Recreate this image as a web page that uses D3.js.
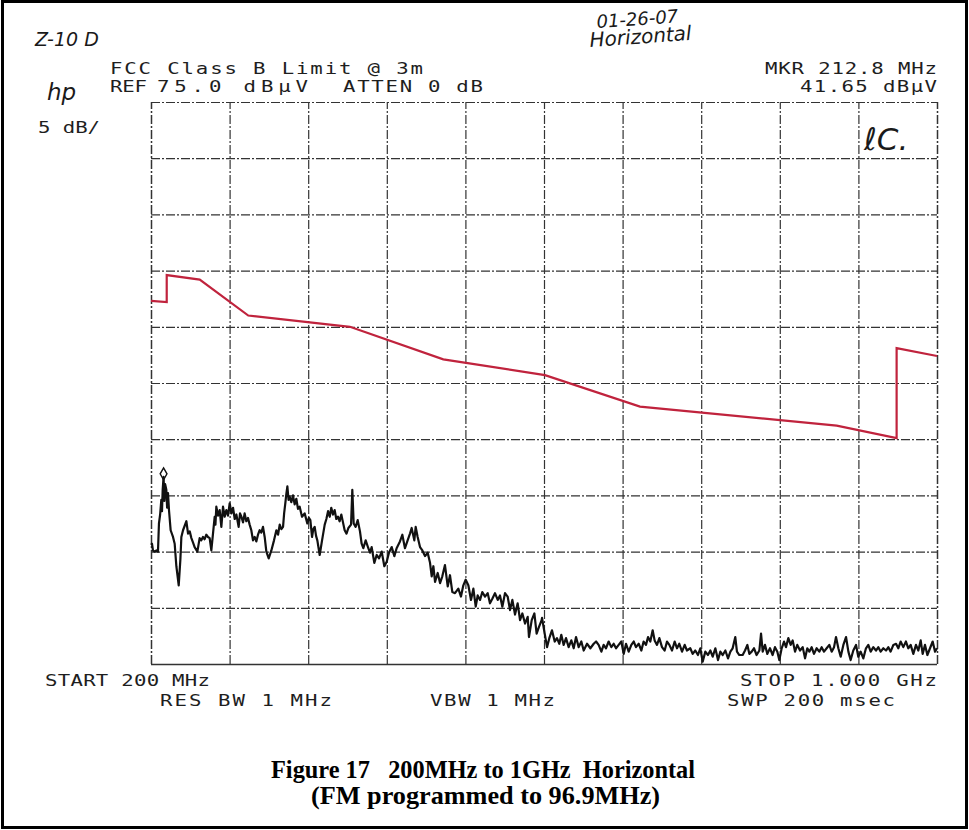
<!DOCTYPE html>
<html>
<head>
<meta charset="utf-8">
<script src="https://cdn.jsdelivr.net/npm/d3@7"></script>
<style>
  html, body { margin: 0; padding: 0; background: #fff; }
  svg { display: block; }
</style>
</head>
<body>
<svg id="chart" width="969" height="830"></svg>
<script>
// Graticule: 10 divisions across 200 MHz – 1 GHz, 5 dB/div below a 75 dBµV reference
const freqTicks = [200, 280, 360, 440, 520, 600, 680, 760, 840, 920, 1000];
const levelTicks = [25, 30, 35, 40, 45, 50, 55, 60, 65, 70, 75];

// FCC Class B limit @ 3 m (dBµV), as stored in the analyzer's limit-line table
const limitFreq  = [200, 216, 216, 249.6, 299, 402.5, 497.5, 601, 697.7, 897.9, 958.9, 958.9, 1000];
const limitLevel = [57.3, 57.2, 59.6, 59.2, 56.0, 55.0, 52.1, 50.7, 47.9, 46.2, 45.1, 53.1, 52.4];

// Measured sweep, horizontal polarisation (MHz, dBµV)
const traceFreq = [
  200.0, 201.0, 202.0, 203.7, 205.5, 207.1, 208.1, 209.3, 210.5, 211.2, 211.9, 212.8, 213.6, 214.4, 215.6, 216.4,
  217.3, 218.3, 220.0, 222.4, 224.1, 225.8, 228.2, 229.9, 230.9, 232.6, 234.3, 236.0, 237.7, 239.4, 241.1, 242.8,
  244.4, 247.2, 249.5, 251.2, 252.9, 254.6, 256.3, 258.0, 259.7, 261.4, 263.1, 264.8, 265.6, 266.5, 268.2, 269.9,
  271.6, 273.3, 275.0, 276.7, 278.4, 280.1, 281.8, 283.5, 285.2, 286.9, 289.2, 290.6, 292.0, 293.7, 295.3, 297.0,
  298.7, 300.4, 302.1, 303.8, 305.5, 307.2, 308.9, 310.6, 312.3, 314.0, 315.7, 317.4, 319.8, 322.5, 325.2, 327.6,
  329.3, 331.0, 332.7, 334.4, 335.5, 336.7, 337.7, 338.8, 340.0, 341.1, 342.8, 344.5, 346.2, 347.9, 349.6, 351.3,
  353.7, 356.4, 359.1, 360.7, 362.2, 363.9, 365.2, 366.6, 368.0, 369.3, 371.7, 374.1, 376.8, 378.5, 380.2, 381.9,
  383.5, 385.2, 386.9, 388.6, 390.3, 392.0, 393.7, 395.4, 397.1, 399.0, 400.9, 403.6, 404.9, 406.3, 408.3, 410.4,
  412.7, 414.4, 416.1, 418.5, 421.2, 422.9, 424.6, 427.3, 429.7, 432.1, 434.8, 437.5, 439.9, 442.2, 445.0, 447.7,
  450.0, 453.4, 455.8, 458.5, 461.2, 463.6, 465.3, 468.0, 469.4, 471.4, 473.8, 476.2, 478.9, 481.6, 484.0, 485.7,
  487.4, 489.1, 491.8, 494.2, 496.5, 499.2, 502.0, 504.3, 506.7, 509.4, 512.8, 515.5, 517.9, 520.3, 523.0, 525.7,
  528.1, 530.5, 532.5, 534.9, 537.2, 540.0, 542.7, 545.0, 547.4, 550.1, 552.9, 555.2, 557.6, 560.3, 563.0, 565.4,
  567.8, 570.5, 573.2, 575.6, 578.0, 580.7, 583.4, 584.7, 587.5, 590.2, 592.5, 594.9, 597.6, 598.0, 600.7, 603.1,
  605.4, 608.1, 610.9, 613.2, 615.6, 617.6, 620.0, 622.4, 625.1, 627.8, 630.2, 632.6, 635.3, 638.0, 640.4, 643.8,
  647.2, 650.6, 653.0, 655.6, 658.4, 660.7, 663.1, 665.8, 668.5, 670.9, 673.3, 676.0, 678.7, 681.1, 683.5, 686.2,
  688.9, 691.3, 693.6, 696.4, 699.1, 701.4, 703.8, 705.9, 708.2, 710.6, 712.6, 715.0, 717.4, 720.1, 722.8, 725.2,
  727.6, 730.3, 733.0, 735.4, 737.7, 740.5, 743.2, 745.5, 748.9, 751.3, 754.0, 756.7, 759.1, 761.5, 764.2, 766.9,
  769.3, 771.7, 774.4, 777.1, 779.5, 781.9, 784.6, 787.3, 789.7, 792.0, 794.7, 796.4, 798.8, 802.2, 804.6, 807.0,
  809.0, 811.4, 813.7, 816.4, 819.2, 820.9, 822.6, 824.9, 827.3, 830.0, 832.7, 835.1, 837.5, 839.5, 841.9, 844.3,
  846.3, 848.7, 851.1, 853.1, 855.5, 857.8, 860.6, 863.3, 865.7, 868.0, 870.1, 872.4, 874.8, 877.5, 880.2, 882.6,
  885.0, 887.7, 890.4, 892.8, 895.2, 897.2, 899.6, 902.0, 904.7, 907.4, 909.8, 912.1, 914.8, 917.6, 919.9, 922.3,
  925.0, 927.7, 930.1, 932.5, 935.2, 937.9, 940.3, 942.7, 945.4, 948.1, 950.5, 952.8, 955.6, 958.3, 960.6, 963.0,
  965.7, 968.4, 970.8, 973.2, 975.9, 978.6, 981.0, 983.4, 985.4, 987.8, 990.2, 992.9, 995.6, 998.0, 1000.0
];
const traceLevel = [
  35.6, 35.7, 35.1, 35.0, 35.1, 35.0, 37.5, 38.3, 39.6, 38.6, 40.5, 41.65, 39.5, 41.0, 40.5, 38.9,
  40.2, 38.7, 36.9, 36.3, 35.7, 33.7, 32.0, 34.3, 36.3, 36.9, 37.3, 37.7, 36.6, 36.8, 36.2, 35.8,
  35.4, 35.0, 36.2, 36.0, 36.3, 36.1, 36.5, 36.3, 36.2, 35.1, 36.6, 38.1, 37.4, 39.0, 38.2, 38.7,
  37.2, 39.0, 38.1, 38.7, 38.2, 39.3, 38.4, 38.9, 37.9, 38.3, 37.2, 38.4, 38.1, 37.6, 38.4, 37.7,
  38.0, 37.4, 36.9, 36.0, 36.3, 35.9, 36.5, 36.9, 36.7, 37.2, 36.3, 35.0, 34.4, 35.1, 36.0, 36.9,
  36.5, 37.4, 37.0, 37.2, 38.4, 39.3, 40.1, 40.8, 39.6, 39.9, 39.4, 40.0, 39.2, 39.7, 38.8, 39.0,
  38.1, 38.4, 37.5, 38.0, 37.8, 36.3, 37.0, 37.2, 36.4, 36.0, 34.7, 36.0, 37.4, 37.9, 38.6, 38.1,
  38.9, 38.3, 38.7, 37.9, 38.1, 37.7, 38.3, 37.6, 36.9, 36.6, 37.1, 37.4, 40.5, 37.5, 37.2, 37.8,
  36.8, 35.7, 35.3, 36.0, 35.3, 34.9, 35.4, 34.0, 34.7, 34.4, 35.0, 33.7, 34.1, 34.9, 35.4, 34.6,
  35.3, 35.9, 36.5, 35.3, 36.0, 36.6, 37.1, 36.0, 37.2, 36.3, 35.4, 35.1, 34.6, 34.9, 34.0, 32.8,
  33.7, 32.3, 33.1, 32.2, 32.8, 33.8, 31.9, 32.9, 31.4, 31.3, 31.7, 31.0, 32.0, 32.5, 32.0, 30.7,
  31.7, 30.1, 31.1, 30.7, 31.4, 31.0, 31.3, 30.4, 30.8, 31.3, 30.7, 31.1, 30.1, 31.3, 31.0, 29.8,
  30.7, 29.4, 30.4, 28.9, 29.5, 28.6, 29.2, 27.4, 28.9, 29.5, 27.7, 28.3, 28.9, 29.1, 27.7, 26.5,
  27.3, 28.0, 27.0, 27.3, 26.8, 27.6, 26.7, 27.3, 26.5, 27.1, 26.4, 27.4, 26.5, 27.0, 26.2, 26.8,
  26.4, 26.8, 27.0, 26.7, 26.1, 26.7, 26.4, 27.0, 26.5, 26.8, 26.4, 26.7, 27.0, 25.9, 26.8, 26.1,
  26.7, 27.0, 26.5, 26.8, 26.2, 27.0, 26.7, 27.4, 27.0, 28.0, 27.1, 26.7, 27.3, 26.5, 26.2, 27.0,
  26.7, 26.2, 27.0, 26.4, 26.8, 26.1, 26.7, 26.2, 26.4, 25.9, 26.2, 25.8, 26.4, 25.2, 26.1, 25.8,
  26.2, 25.65, 26.4, 25.35, 26.1, 25.8, 26.2, 25.5, 26.1, 26.4, 27.4, 26.1, 25.8, 25.8, 26.2, 26.7,
  25.9, 26.1, 26.4, 25.8, 26.2, 27.7, 26.1, 26.7, 25.9, 26.4, 25.8, 26.5, 26.1, 25.35, 26.4, 27.0,
  26.5, 27.3, 26.7, 27.1, 26.1, 26.7, 26.2, 26.5, 25.5, 26.4, 26.1, 26.5, 25.9, 26.4, 26.1, 26.5,
  26.1, 26.4, 26.7, 26.1, 26.5, 27.4, 26.4, 25.65, 26.7, 27.4, 26.1, 25.35, 26.2, 26.7, 25.65, 26.1,
  25.5, 26.4, 26.7, 26.1, 26.5, 26.2, 26.5, 26.1, 26.4, 26.2, 26.5, 26.1, 26.7, 26.8, 26.4, 27.0,
  26.5, 27.0, 26.4, 26.7, 25.9, 26.7, 26.2, 27.1, 25.9, 26.7, 25.8, 26.4, 27.0, 26.1, 26.4
];

// Marker readout
const marker = { freq: 212.8, level: 41.65 };

const svg = d3.select("#chart");
const plot = { left: 151, right: 937, top: 102, bottom: 664 };

const x = d3.scaleLinear().domain([200, 1000]).range([plot.left, plot.right]);
const y = d3.scaleLinear().domain([25, 75]).range([plot.bottom, plot.top]);

// Page frame
svg.append("rect")
  .attr("x", 2.5).attr("y", 1.5)
  .attr("width", 964).attr("height", 826)
  .attr("fill", "none").attr("stroke", "#000").attr("stroke-width", 3);

// Graticule drawn with axes whose ticks span the whole screen
const gridColor = "#333";
const gx = svg.append("g")
  .attr("transform", `translate(0,${plot.bottom})`)
  .call(d3.axisBottom(x).tickValues(freqTicks)
    .tickSize(-(plot.bottom - plot.top)).tickFormat(""));
const gy = svg.append("g")
  .attr("transform", `translate(${plot.left},0)`)
  .call(d3.axisLeft(y).tickValues(levelTicks)
    .tickSize(-(plot.right - plot.left)).tickFormat(""));
[gx, gy].forEach(g => {
  g.select(".domain").remove();
  g.selectAll(".tick line")
    .attr("stroke", gridColor)
    .attr("stroke-width", 1.2)
    .attr("stroke-dasharray", "9,2,2,2");
});
// heavier bottom edge of the screen
gx.selectAll(".tick line").filter(d => d === 200 || d === 1000).attr("stroke-width", 1.5);
gy.selectAll(".tick line").filter(d => d === 25).attr("stroke-dasharray", null).attr("stroke-width", 1.5);

// Limit line
const pairLine = d3.line()
  .x(d => x(d[0]))
  .y(d => y(d[1]));
svg.append("path")
  .datum(d3.zip(limitFreq, limitLevel))
  .attr("d", pairLine)
  .attr("fill", "none")
  .attr("stroke", "#c0233d")
  .attr("stroke-width", 2.2)
  .attr("stroke-linejoin", "miter");

// Measured trace
svg.append("path")
  .datum(d3.zip(traceFreq, traceLevel))
  .attr("d", pairLine)
  .attr("fill", "none")
  .attr("stroke", "#111")
  .attr("stroke-width", 2.2)
  .attr("stroke-linejoin", "round");

// Marker symbol at the peak
svg.append("path")
  .attr("d", d3.symbol(d3.symbolDiamond, 40)())
  .attr("transform", `translate(${x(marker.freq)},${y(marker.level) - 3})`)
  .attr("fill", "none")
  .attr("stroke", "#111")
  .attr("stroke-width", 1.4);

// Plotter-style annotation text (wide monospaced lettering)
function plotterText(str, x0, x1, baseline) {
  const sx = 1.38;
  svg.append("text")
    .attr("transform", `translate(${x0},${baseline}) scale(${sx},1)`)
    .attr("font-family", "DejaVu Sans Mono")
    .attr("font-size", 15)
    .attr("fill", "#1e1e1e")
    .attr("textLength", (x1 - x0) / sx)
    .attr("lengthAdjust", "spacing")
    .style("white-space", "pre")
    .text(str);
}
plotterText("FCC Class B Limit @ 3m", 110, 423, 74);
plotterText("REF", 110, 147, 92);
plotterText("75.0 dBµV", 157, 308, 92);
plotterText("ATTEN 0 dB", 343, 483, 92);
plotterText("MKR 212.8 MHz", 765, 937, 74);
plotterText("41.65 dBµV", 800, 937, 92);
plotterText("5 dB/", 38, 100, 133);
plotterText("START 200 MHz", 45, 210, 686);
plotterText("STOP 1.000 GHz", 740, 937, 686);
plotterText("RES BW 1 MHz", 160, 332, 706);
plotterText("VBW 1 MHz", 430, 555, 706);
plotterText("SWP 200 msec", 727, 895, 706);

// Hand-written notes
function handText(str, x0, baseline, size, rot) {
  svg.append("text")
    .attr("transform", `translate(${x0},${baseline}) rotate(${rot || 0})`)
    .attr("font-family", "DejaVu Sans")
    .attr("font-weight", 200)
    .attr("font-style", "italic")
    .attr("font-size", size)
    .attr("fill", "#1a1a1a")
    .text(str);
}
handText("Z-10 D", 35, 46, 19, 0);
handText("hp", 47, 100, 23, 0);
handText("01-26-07", 597, 28, 18, -4);
handText("Horizontal", 590, 47, 20, -4);
handText("ℓC.", 864, 150, 31, 0);

// Figure caption
const caption = svg.append("g")
  .attr("font-family", "Liberation Serif")
  .attr("font-weight", "bold")
  .attr("font-size", 25)
  .attr("fill", "#000");
caption.append("text")
  .attr("x", 271).attr("y", 778)
  .attr("textLength", 424).attr("lengthAdjust", "spacingAndGlyphs")
  .style("white-space", "pre")
  .text("Figure 17   200MHz to 1GHz  Horizontal");
caption.append("text")
  .attr("x", 311).attr("y", 804)
  .attr("textLength", 349).attr("lengthAdjust", "spacingAndGlyphs")
  .text("(FM programmed to 96.9MHz)");
</script>
</body>
</html>
